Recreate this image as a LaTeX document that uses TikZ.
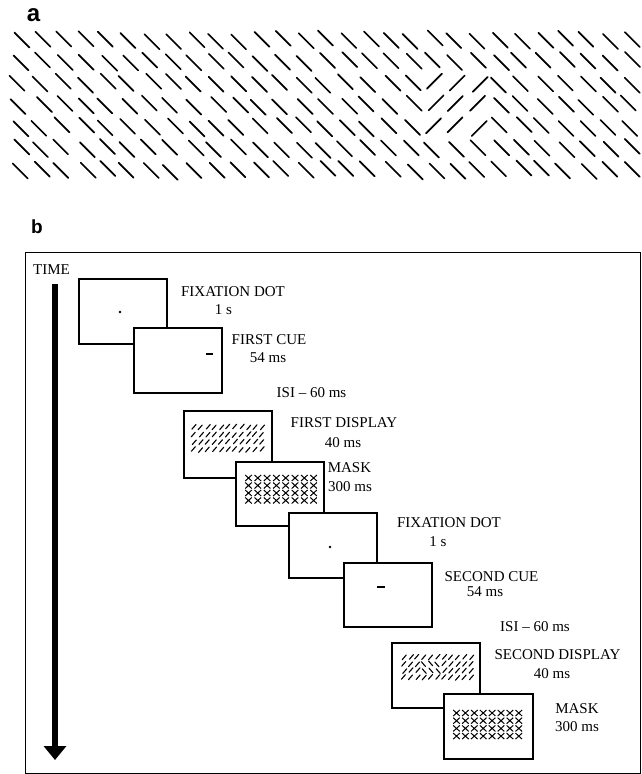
\documentclass[tikz,border=0pt]{standalone}
\usepackage{fontspec}
\setmainfont{Liberation Serif}
\newfontfamily\labfont{Liberation Sans}
\usetikzlibrary{arrows.meta}
\begin{document}
\begin{tikzpicture}[x=1pt,y=-1pt,
  screen/.style={draw, line width=1.5pt, fill=white, minimum width=88pt, minimum height=65pt, inner sep=0pt, anchor=north west},
  lab/.style={font=\fontsize{15}{18}\selectfont, inner sep=0pt},
  tex/.style={line width=1.7pt, line cap=round},
  mini/.style={line width=1.1pt, line cap=round},
  xm/.style={line width=1pt}]
\useasboundingbox (0,0) rectangle (641,774);
% ---------- panel a ----------
\node[font=\fontsize{24}{24}\labfont\bfseries, inner sep=0pt] (la) at (33.5,15) {a};
\pgfmathsetseed{11}
\begin{scope}
\clip (0,28) rectangle (641,185);
\foreach \r in {0,...,6}{
  \foreach \c in {0,...,29}{
    \pgfmathsetmacro\cx{20+21.8*\c+3*rand}
    \pgfmathsetmacro\cy{40+21.7*\r+2.3*rand}
    \pgfmathtruncatemacro\fig{(\r>1)&&(\r<5)&&(\c>18)&&(\c<22)}
    \ifnum\fig=1
      \draw[tex] (\cx-7.5,\cy+7.5) -- (\cx+7.5,\cy-7.5);
    \else
      \draw[tex] (\cx-7.5,\cy-7.5) -- (\cx+7.5,\cy+7.5);
    \fi
  }
}
\end{scope}
% ---------- panel b ----------
\node[font=\fontsize{19}{19}\labfont\bfseries, inner sep=0pt] (lb) at (37,226.7) {b};
\node[draw, line width=1.3pt, minimum width=615pt, minimum height=521pt, anchor=north west, inner sep=0pt] (frame) at (25,252) {};
\node[lab] (time) at (51.5,270) {TIME};
\coordinate (ts) at (55,284);
\coordinate (te) at (55,760);
\draw[line width=6pt, -{Triangle[width=22pt,length=14pt]}] (ts) -- (te);
% box 1: fixation dot
\node[screen] (s1) at (78,278) {};
\fill (120,312) circle (1.4);
% box 2: first cue
\node[screen] (s2) at (133,327) {};
\draw[line width=2.5pt] (206,354) -- (213,354);
% box 3: first display
\node[screen, minimum height=67pt] (s3) at (183,410) {};
\foreach \r in {0,...,3}{
  \foreach \c in {0,...,10}{
    \pgfmathsetmacro\mx{194+6.8*\c+0.8*rand}
    \pgfmathsetmacro\my{427+7.5*\r+0.6*rand}
    \draw[mini] (\mx-2,\my+2.3) -- (\mx+2,\my-2.3);
  }
}
% box 4: mask
\node[screen, minimum height=64pt] (s4) at (235,461) {};
\foreach \r in {0,...,3}{
  \foreach \c in {0,...,7}{
    \pgfmathsetmacro\mx{248.5+9.3*\c}
    \pgfmathsetmacro\my{478+7.5*\r}
    \draw[xm] (\mx-3.3,\my-3) -- (\mx+3.3,\my+3) (\mx-3.3,\my+3) -- (\mx+3.3,\my-3);
  }
}
% box 5: fixation dot
\node[screen] (s5) at (288,512) {};
\fill (330,547) circle (1.4);
% box 6: second cue
\node[screen, minimum height=64pt] (s6) at (343,562) {};
\draw[line width=2.5pt] (377,587) -- (385,587);
% box 7: second display
\node[screen] (s7) at (391,642) {};
\foreach \r in {0,...,3}{
  \foreach \c in {0,...,10}{
    \pgfmathsetmacro\mx{404+6.7*\c+0.8*rand}
    \pgfmathsetmacro\my{657+6.8*\r+0.6*rand}
    \pgfmathtruncatemacro\fig{(\r>0)&&(\r<3)&&(\c>2)&&(\c<6)}
    \ifnum\fig=1
      \draw[mini] (\mx-2,\my-2.3) -- (\mx+2,\my+2.3);
    \else
      \draw[mini] (\mx-2,\my+2.3) -- (\mx+2,\my-2.3);
    \fi
  }
}
% box 8: mask
\node[screen, minimum width=89pt] (s8) at (443,693) {};
\foreach \r in {0,...,3}{
  \foreach \c in {0,...,7}{
    \pgfmathsetmacro\mx{456.5+8.9*\c}
    \pgfmathsetmacro\my{713+7.7*\r}
    \draw[xm] (\mx-3.3,\my-3) -- (\mx+3.3,\my+3) (\mx-3.3,\my+3) -- (\mx+3.3,\my-3);
  }
}
% labels
\node[lab] (t1a) at (233,292) {FIXATION DOT};
\node[lab] (t1b) at (223.5,310) {1 s};
\node[lab] (t2a) at (269,340) {FIRST CUE};
\node[lab] (t2b) at (268,358) {54 ms};
\node[lab] (isi1) at (311.5,393) {ISI – 60 ms};
\node[lab] (t3a) at (344,423) {FIRST DISPLAY};
\node[lab] (t3b) at (343,443) {40 ms};
\node[lab] (t4a) at (349.5,468) {MASK};
\node[lab] (t4b) at (350,487) {300 ms};
\node[lab] (t5a) at (449,523) {FIXATION DOT};
\node[lab] (t5b) at (438,542) {1 s};
\node[lab] (t6a) at (491.5,577) {SECOND CUE};
\node[lab] (t6b) at (485,592) {54 ms};
\node[lab] (isi2) at (535,627) {ISI – 60 ms};
\node[lab] (t7a) at (557.5,655) {SECOND DISPLAY};
\node[lab] (t7b) at (552,674) {40 ms};
\node[lab] (t8a) at (577,709) {MASK};
\node[lab] (t8b) at (577,727) {300 ms};
\end{tikzpicture}
\end{document}
